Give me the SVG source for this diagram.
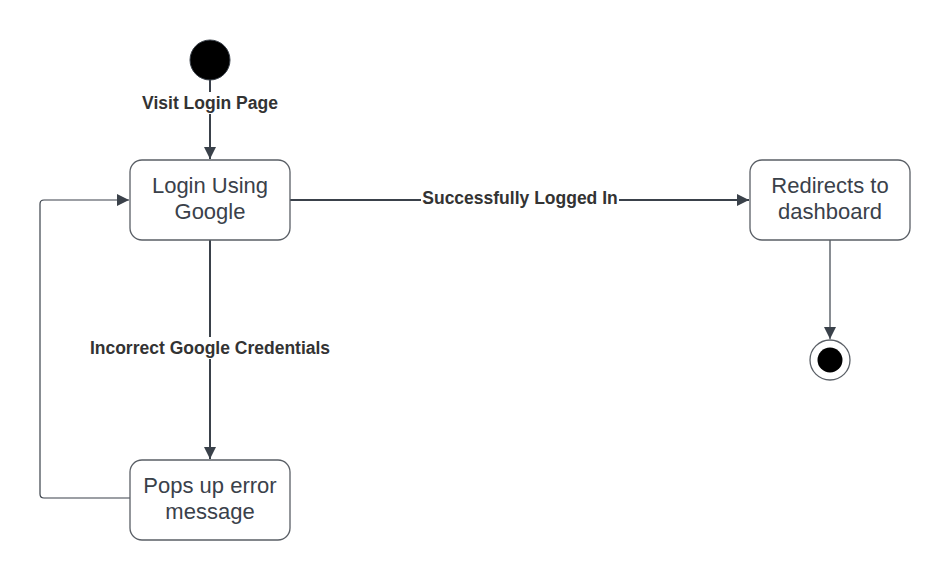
<svg xmlns="http://www.w3.org/2000/svg" width="951" height="580" viewBox="0 0 951 580">
<defs>
<style>
.node{fill:#ffffff;stroke:#5a5f66;stroke-width:1.3}
.nt{font-family:"Liberation Sans",Arial,sans-serif;font-size:22px;fill:#3a414a;text-anchor:middle}
.lbl{font-family:"Liberation Sans",Arial,sans-serif;font-size:17.5px;font-weight:bold;fill:#333333;text-anchor:middle}
.edge{fill:none;stroke:#3a414a;stroke-width:2}
.thin{fill:none;stroke:#3a414a;stroke-width:1.2}
.bg{fill:#ffffff}
</style>
<marker id="arr" viewBox="0 0 12 12" refX="12" refY="6" markerWidth="12" markerHeight="12" markerUnits="userSpaceOnUse" orient="auto">
<path d="M0,0 L12,6 L0,12 Z" fill="#3a414a"/>
</marker>
</defs>
<rect width="951" height="580" fill="#ffffff"/>
<g id="connectors">
<path class="edge" d="M210,80 L210,159" marker-end="url(#arr)"/>
<rect class="bg" x="140" y="92" width="140" height="22"/>
<text class="lbl" x="210" y="109">Visit Login Page</text>
<path class="edge" d="M290,200 L749,200" marker-end="url(#arr)"/>
<rect class="bg" x="421" y="187" width="198" height="22"/>
<text class="lbl" x="520" y="204">Successfully Logged In</text>
<path class="edge" d="M210,240 L210,459" marker-end="url(#arr)"/>
<rect class="bg" x="88" y="337" width="244" height="22"/>
<text class="lbl" x="210" y="354">Incorrect Google Credentials</text>
<path class="thin" d="M130,498 L44,498 Q40,498 40,494 L40,204 Q40,200 44,200 L129,200" marker-end="url(#arr)"/>
<path class="thin" d="M830,240 L830,339" marker-end="url(#arr)"/>
</g>
<g id="start">
<circle cx="210" cy="60" r="20" fill="#000000" stroke="#3a414a" stroke-width="1"/>
</g>
<g id="login">
<rect class="node" x="130" y="160" width="160" height="80" rx="12"/>
<text class="nt" x="210" y="193">Login Using</text>
<text class="nt" x="210" y="219">Google</text>
</g>
<g id="redirect">
<rect class="node" x="750" y="160" width="160" height="80" rx="12"/>
<text class="nt" x="830" y="193">Redirects to</text>
<text class="nt" x="830" y="219">dashboard</text>
</g>
<g id="error">
<rect class="node" x="130" y="460" width="160" height="80" rx="12"/>
<text class="nt" x="210" y="493">Pops up error</text>
<text class="nt" x="210" y="519">message</text>
</g>
<g id="end">
<circle cx="830" cy="360" r="20" fill="#ffffff" stroke="#5a5f66" stroke-width="1.3"/>
<circle cx="830" cy="360" r="12.5" fill="#000000"/>
</g>
</svg>
